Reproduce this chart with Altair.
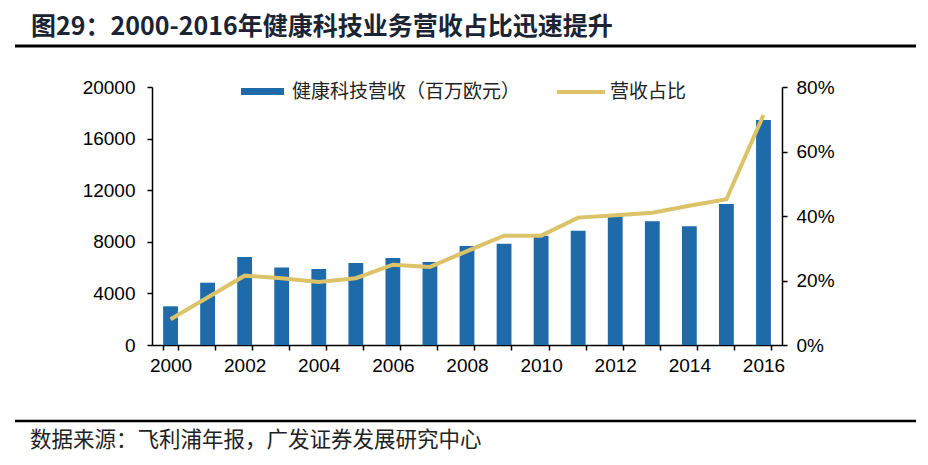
import altair as alt
import pandas as pd

years = [str(y) for y in range(2000, 2017)]
revenue = [3000, 4830, 6820, 6000, 5890, 6360, 6740, 6430, 7670, 7850,
           8470, 8860, 10000, 9590, 9200, 10930, 17440]
share = [0.080, 0.147, 0.215, 0.207, 0.195, 0.207, 0.249, 0.242, 0.291, 0.339,
         0.339, 0.395, 0.402, 0.410, 0.432, 0.452, 0.713]

left_ticks = [0, 4000, 8000, 12000, 16000, 20000]
right_ticks = [0, 0.2, 0.4, 0.6, 0.8]

title_text = "图29：2000-2016年健康科技业务营收占比迅速提升"
source_text = "数据来源：飞利浦年报，广发证券发展研究中心"
legend_bar = "健康科技营收（百万欧元）"
legend_line = "营收占比"

df = pd.DataFrame({"year": years, "revenue": revenue, "share": share})
one = pd.DataFrame({"k": [0]})

BLUE = "#1F6BAA"
GOLD = "#DCC36A"
CJK = "Noto Sans CJK SC"
NUM = "Liberation Sans"

x = alt.X(
    "year:O",
    scale=alt.Scale(paddingInner=0.6, paddingOuter=0.3),
    axis=alt.Axis(
        title=None, labelAngle=0,
        labelExpr="toNumber(datum.value) % 2 == 0 ? datum.value : ''",
        tickBand="extent", labelFont=NUM, labelFontSize=19, labelColor="black",
        domainColor="black", domainWidth=1.5, tickColor="black", tickWidth=1.5,
        tickSize=5, labelPadding=6, grid=False,
    ),
)

bars = alt.Chart(df).mark_bar(color=BLUE).encode(
    x=x,
    y=alt.Y(
        "revenue:Q",
        scale=alt.Scale(domain=[0, 20000], nice=False),
        axis=alt.Axis(
            values=left_ticks, format="d", title=None, grid=False, orient="left",
            labelFont=NUM, labelFontSize=19, labelColor="black",
            domainColor="black", domainWidth=1.5, tickColor="black",
            tickWidth=1.5, tickSize=5, labelPadding=12,
        ),
    ),
)

line = alt.Chart(df).mark_line(color=GOLD, strokeWidth=4).encode(
    x=x,
    y=alt.Y(
        "share:Q",
        scale=alt.Scale(domain=[0, 0.8], nice=False),
        axis=alt.Axis(
            values=right_ticks, format=".0%", title=None, grid=False, orient="right",
            labelFont=NUM, labelFontSize=19, labelColor="black",
            domainColor="black", domainWidth=1.5, tickColor="black",
            tickWidth=1.5, tickSize=5, labelPadding=9,
        ),
    ),
)

title_mark = alt.Chart(one).mark_text(
    text=title_text, font=CJK, fontWeight="bold", fontSize=25,
    align="left", baseline="middle", color="#1a2433",
).encode(x=alt.value(-121), y=alt.value(-60))

top_rule = alt.Chart(one).mark_rule(color="black", strokeWidth=3).encode(
    x=alt.value(-137), x2=alt.value(764), y=alt.value(-41))

bottom_rule = alt.Chart(one).mark_rule(color="black", strokeWidth=2.5).encode(
    x=alt.value(-137), x2=alt.value(764), y=alt.value(334))

source_mark = alt.Chart(one).mark_text(
    text=source_text, font=CJK, fontSize=21.5,
    align="left", baseline="middle", color="#222222",
).encode(x=alt.value(-122), y=alt.value(354))

leg_rect = alt.Chart(one).mark_rect(color=BLUE).encode(
    x=alt.value(89), x2=alt.value(132), y=alt.value(1), y2=alt.value(8))
leg_text1 = alt.Chart(one).mark_text(
    text=legend_bar, font=CJK, fontSize=19, align="left", baseline="middle",
    color="#222222",
).encode(x=alt.value(140), y=alt.value(5))
leg_line = alt.Chart(one).mark_rule(color=GOLD, strokeWidth=4).encode(
    x=alt.value(405), x2=alt.value(453), y=alt.value(5))
leg_text2 = alt.Chart(one).mark_text(
    text=legend_line, font=CJK, fontSize=19, align="left", baseline="middle",
    color="#222222",
).encode(x=alt.value(458), y=alt.value(5))

chart = alt.layer(
    bars, line, title_mark, top_rule, bottom_rule, source_mark,
    leg_rect, leg_text1, leg_line, leg_text2,
).resolve_scale(y="independent").properties(
    width=630, height=258,
    autosize=alt.AutoSizeParams(type="none"),
    padding={"left": 144, "top": 79, "right": 138, "bottom": 112},
    background="white",
).configure_view(stroke=None)

chart.save("out.html", embed_options={"renderer": "svg", "actions": False})
